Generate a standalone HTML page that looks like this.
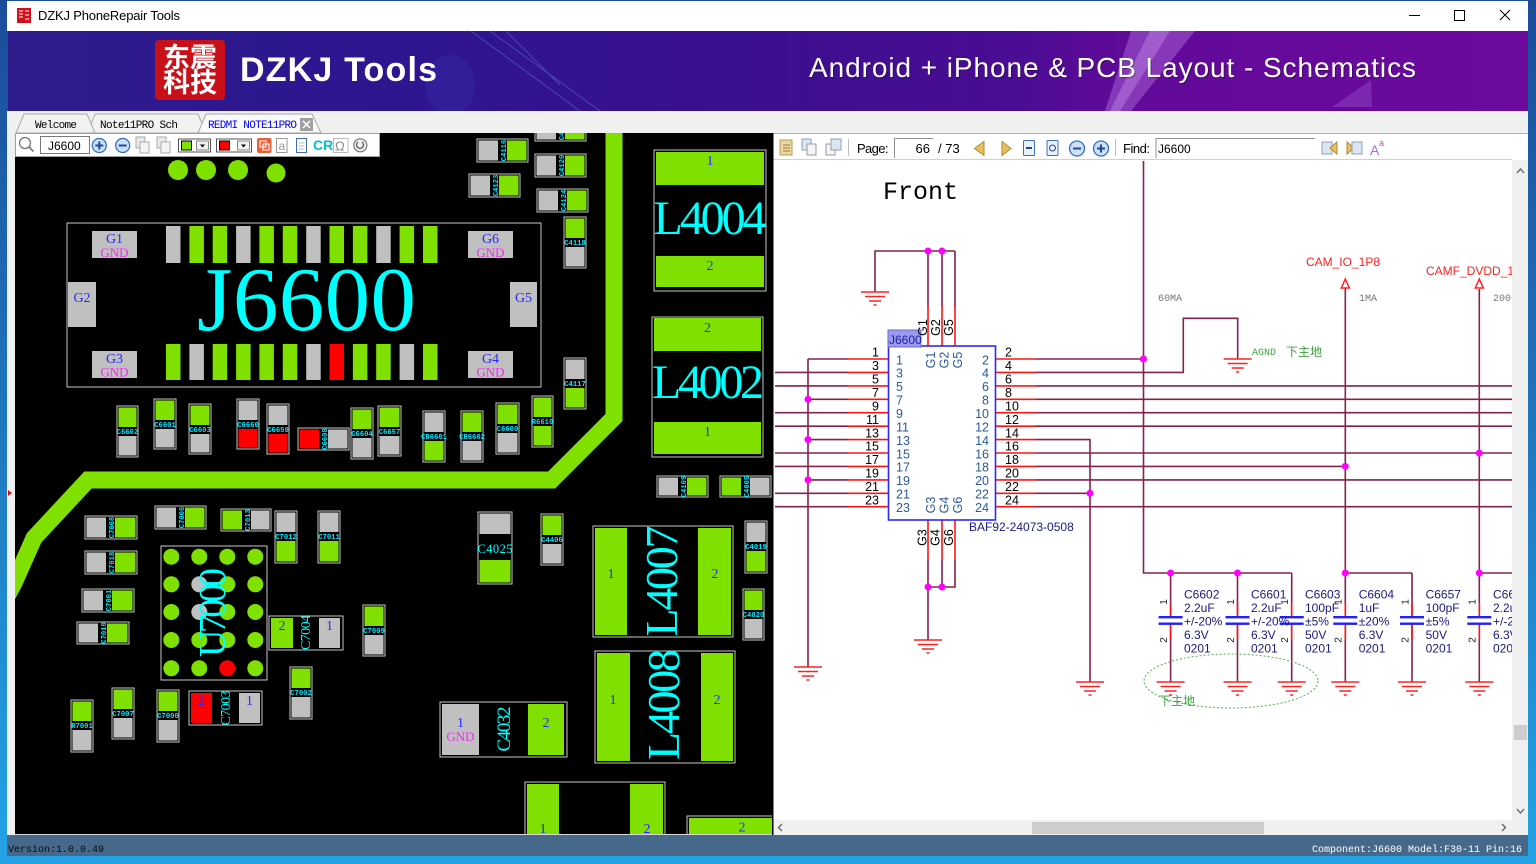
<!DOCTYPE html>
<html><head><meta charset="utf-8">
<style>
html,body{margin:0;padding:0;width:1536px;height:864px;overflow:hidden;background:#1b5fb0}
svg{display:block}
.g{fill:#80e000}.s{fill:#c0c0c0}.r{fill:#ff0000}
.o{fill:none;stroke:#c8c8c8;stroke-width:1}
.l{font:bold 7.2px "Liberation Mono",monospace;fill:#00e8ff;text-anchor:middle}
.cy{font-family:"Liberation Serif",serif;fill:#00ffff;text-anchor:middle}
.bn{font:14px "Liberation Serif",serif;fill:#2828ff;text-anchor:middle}
.mg{font:13px "Liberation Serif",serif;fill:#ff20ff;text-anchor:middle}
.w{fill:none;stroke:#86204f;stroke-width:1.6}
.p{fill:none;stroke:#ff1414;stroke-width:1.6}
.gd{fill:none;stroke:#ff2020;stroke-width:1.5}
.dt{fill:#ff00ff}
.pn{font:12.5px "Liberation Sans",sans-serif;fill:#000}
.pi{font:12.5px "Liberation Sans",sans-serif;fill:#2a5a9a}
.cl{font:12px "Liberation Sans",sans-serif;fill:#1a1a80}
.cp{font:10px "Liberation Sans",sans-serif;fill:#222;text-anchor:middle}
.tb{font:13px "Liberation Sans",sans-serif;fill:#000}
.tab{font:11px "Liberation Mono",monospace;fill:#000}
</style></head><body>
<svg width="1536" height="864" viewBox="0 0 1536 864" xmlns="http://www.w3.org/2000/svg">
<defs>
<linearGradient id="bg" x1="0" y1="0" x2="0" y2="1"><stop offset="0" stop-color="#1b4c9a"/><stop offset="1" stop-color="#23a3e6"/></linearGradient>
<linearGradient id="ban" x1="0" y1="0" x2="1" y2="0">
<stop offset="0" stop-color="#2e1c8c"/><stop offset="0.25" stop-color="#2d1590"/><stop offset="0.45" stop-color="#38108f"/><stop offset="0.66" stop-color="#4a0c94"/><stop offset="0.74" stop-color="#620a9a"/><stop offset="1" stop-color="#6c0a9e"/></linearGradient>
<clipPath id="sch"><rect x="774" y="161" width="738" height="659"/></clipPath>
<clipPath id="pcb"><rect x="15" y="133" width="758" height="701"/></clipPath>
<clipPath id="banc"><rect x="8" y="31" width="1520" height="80"/></clipPath>
</defs>

<!-- background / window -->
<rect x="0" y="0" width="1536" height="864" fill="url(#bg)"/>
<rect x="7" y="1" width="1521" height="30" fill="#fff"/>
<rect x="17" y="8" width="14" height="15" fill="#d0101a"/>
<path d="M19 11h4M19 14h4M19 17h4M25 11h4M25 15h4M25 19h4" stroke="#fff" stroke-width="1"/>
<text x="38" y="20" font-family="Liberation Sans, sans-serif" font-size="13" fill="#000" textLength="142">DZKJ PhoneRepair Tools</text>
<path d="M1409 15.5H1420" stroke="#000" stroke-width="1"/>
<rect x="1454.5" y="10.5" width="10" height="10" fill="none" stroke="#000" stroke-width="1"/>
<path d="M1500 10L1510 20M1510 10L1500 20" stroke="#000" stroke-width="1"/>

<!-- banner -->
<rect x="8" y="31" width="1520" height="80" fill="url(#ban)"/>
<g clip-path="url(#banc)">
<polygon points="1131,31 1195,31 1131,111 1105,111" fill="#c890f0" opacity="0.35"/>
<polygon points="1150,31 1170,31 1120,111 1110,111" fill="#e0b0ff" opacity="0.3"/>
<polygon points="1332,107 1371,80 1372,107" fill="#b070e0" opacity="0.3"/>
<path d="M471 31L580 111M506 31L560 85M490 31L600 111" stroke="#7ac8ff" stroke-width="1" opacity="0.3" fill="none"/>
<ellipse cx="450" cy="85" rx="25" ry="30" fill="#4a6ae0" opacity="0.12"/>
</g>
<rect x="155" y="40" width="70" height="60" rx="4" fill="#c81018"/>
<text x="190" y="67" text-anchor="middle" font-family="Noto Sans CJK SC, sans-serif" font-weight="bold" font-size="27" fill="#fff">东震</text>
<text x="190" y="92" text-anchor="middle" font-family="Noto Sans CJK SC, sans-serif" font-weight="bold" font-size="27" fill="#fff">科技</text>
<text x="240" y="81" font-family="Liberation Sans, sans-serif" font-weight="bold" font-size="34" fill="#fff" textLength="197">DZKJ Tools</text>
<text x="810" y="78" font-family="Liberation Sans, sans-serif" font-size="28" fill="#000" opacity="0.35" textLength="607">Android + iPhone &amp; PCB Layout - Schematics</text>
<text x="809" y="77" font-family="Liberation Sans, sans-serif" font-size="28" fill="#fff" textLength="607">Android + iPhone &amp; PCB Layout - Schematics</text>

<!-- tab row -->
<rect x="7" y="111" width="1521" height="22" fill="#f0f0f0"/>
<polygon points="88,133 95,114 198,114 206,133" fill="#f2f2f2" stroke="#a8a8a8"/>
<polygon points="16,133 24,114 87,114 95,133" fill="#f2f2f2" stroke="#a8a8a8"/>
<polygon points="198,133 206,114 312,114 321,133" fill="#fafafa" stroke="#a8a8a8"/>
<text x="35" y="128" class="tab" textLength="42">Welcome</text>
<text x="100" y="128" class="tab" textLength="78">Note11PRO Sch</text>
<text x="208" y="128" class="tab" style="fill:#0000ff" textLength="89">REDMI NOTE11PRO</text>
<rect x="300" y="118" width="13" height="13" fill="#a0a0a0"/>
<path d="M303 121l7 7M310 121l-7 7" stroke="#fff" stroke-width="1.5"/>

<!-- PCB panel -->
<rect x="7" y="133" width="766" height="703" fill="#f0f0f0"/>
<rect x="15" y="834" width="758" height="2" fill="#d8d8d8"/>
<polygon points="8,490 12,493 8,496" fill="#ff0000"/>
<g clip-path="url(#pcb)">
<rect x="15" y="133" width="758" height="701" fill="#000"/>
<polyline points="614,120 614,417.5 551.6,480 88,480 34,538 14,583 5,600" fill="none" stroke="#80e000" stroke-width="17" stroke-linejoin="miter"/>

<circle cx="178" cy="170" r="10" class="g"/><circle cx="206" cy="170" r="10" class="g"/><circle cx="238" cy="170" r="10" class="g"/><circle cx="276" cy="173" r="9.5" class="g"/>

<!-- J6600 footprint -->
<rect x="67" y="223" width="474" height="164" class="o"/>
<rect x="92" y="231" width="45" height="27" class="s"/><text x="114.5" y="243" class="bn">G1</text><text x="114.5" y="257" class="mg">GND</text>
<rect x="68" y="282" width="28" height="45" class="s"/><text x="82" y="302" class="bn">G2</text>
<rect x="92" y="351" width="45" height="27" class="s"/><text x="114.5" y="363" class="bn">G3</text><text x="114.5" y="376.5" class="mg">GND</text>
<rect x="468" y="231" width="45" height="27" class="s"/><text x="490.5" y="243" class="bn">G6</text><text x="490.5" y="257" class="mg">GND</text>
<rect x="510" y="282" width="27" height="45" class="s"/><text x="523.5" y="302" class="bn">G5</text>
<rect x="468" y="351" width="45" height="27" class="s"/><text x="490.5" y="363" class="bn">G4</text><text x="490.5" y="376.5" class="mg">GND</text>
<rect x="166" y="226" width="14.5" height="37" class="s"/>
<rect x="189.4" y="226" width="14.5" height="37" class="g"/>
<rect x="212.7" y="226" width="14.5" height="37" class="g"/>
<rect x="236.1" y="226" width="14.5" height="37" class="s"/>
<rect x="259.4" y="226" width="14.5" height="37" class="g"/>
<rect x="282.8" y="226" width="14.5" height="37" class="g"/>
<rect x="306.2" y="226" width="14.5" height="37" class="s"/>
<rect x="329.5" y="226" width="14.5" height="37" class="g"/>
<rect x="352.9" y="226" width="14.5" height="37" class="g"/>
<rect x="376.2" y="226" width="14.5" height="37" class="s"/>
<rect x="399.6" y="226" width="14.5" height="37" class="g"/>
<rect x="423" y="226" width="14.5" height="37" class="g"/>
<rect x="166" y="344" width="14.5" height="36" class="g"/>
<rect x="189.4" y="344" width="14.5" height="36" class="s"/>
<rect x="212.7" y="344" width="14.5" height="36" class="g"/>
<rect x="236.1" y="344" width="14.5" height="36" class="g"/>
<rect x="259.4" y="344" width="14.5" height="36" class="g"/>
<rect x="282.8" y="344" width="14.5" height="36" class="g"/>
<rect x="306.2" y="344" width="14.5" height="36" class="s"/>
<rect x="329.5" y="344" width="14.5" height="36" class="r"/>
<rect x="352.9" y="344" width="14.5" height="36" class="g"/>
<rect x="376.2" y="344" width="14.5" height="36" class="g"/>
<rect x="399.6" y="344" width="14.5" height="36" class="s"/>
<rect x="423" y="344" width="14.5" height="36" class="g"/>
<text x="197" y="330" font-family="Liberation Serif, serif" font-size="91" fill="#00ffff" textLength="219">J6600</text>

<!-- vertical small comps -->
<g transform="translate(117,406)"><rect width="21" height="51" class="o"/><rect x="1.5" y="1.5" width="18" height="19.5" class="g"/><rect x="1.5" y="30" width="18" height="19.5" class="s"/><text x="10.5" y="28" class="l">C6602</text></g>
<g transform="translate(154,399)"><rect width="22" height="50" class="o"/><rect x="1.5" y="1.5" width="19" height="19.5" class="g"/><rect x="1.5" y="30" width="19" height="18.5" class="s"/><text x="11" y="28" class="l">C6601</text></g>
<g transform="translate(189,404)"><rect width="22" height="50" class="o"/><rect x="1.5" y="1.5" width="19" height="19.5" class="g"/><rect x="1.5" y="30" width="19" height="18.5" class="s"/><text x="11" y="28" class="l">C6603</text></g>
<g transform="translate(237,399)"><rect width="22" height="50" class="o"/><rect x="1.5" y="1.5" width="19" height="19.5" class="s"/><rect x="1.5" y="30" width="19" height="18.5" class="r"/><text x="11" y="28" class="l">C6660</text></g>
<g transform="translate(267,404)"><rect width="22" height="50" class="o"/><rect x="1.5" y="1.5" width="19" height="19.5" class="s"/><rect x="1.5" y="30" width="19" height="18.5" class="r"/><text x="11" y="28" class="l">C6659</text></g>
<g transform="translate(351,408)"><rect width="22" height="51" class="o"/><rect x="1.5" y="1.5" width="19" height="19.5" class="g"/><rect x="1.5" y="30" width="19" height="19.5" class="s"/><text x="11" y="28" class="l">C6604</text></g>
<g transform="translate(378,406)"><rect width="23" height="50" class="o"/><rect x="1.5" y="1.5" width="20" height="19.5" class="g"/><rect x="1.5" y="30" width="20" height="18.5" class="s"/><text x="11.5" y="28" class="l">C6657</text></g>
<g transform="translate(423,411)"><rect width="22" height="51" class="o"/><rect x="1.5" y="1.5" width="19" height="19.5" class="s"/><rect x="1.5" y="30" width="19" height="19.5" class="g"/><text x="11" y="28" class="l">CR6601</text></g>
<g transform="translate(461,411)"><rect width="22" height="51" class="o"/><rect x="1.5" y="1.5" width="19" height="19.5" class="g"/><rect x="1.5" y="30" width="19" height="19.5" class="s"/><text x="11" y="28" class="l">CR6602</text></g>
<g transform="translate(496,403)"><rect width="23" height="51" class="o"/><rect x="1.5" y="1.5" width="20" height="19.5" class="g"/><rect x="1.5" y="30" width="20" height="19.5" class="s"/><text x="11.5" y="28" class="l">C6600</text></g>
<g transform="translate(532,396)"><rect width="21" height="51" class="o"/><rect x="1.5" y="1.5" width="18" height="19.5" class="g"/><rect x="1.5" y="30" width="18" height="19.5" class="g"/><text x="10.5" y="28" class="l">R6610</text></g>
<g transform="translate(564,358)"><rect width="22" height="51" class="o"/><rect x="1.5" y="1.5" width="19" height="19.5" class="s"/><rect x="1.5" y="30" width="19" height="19.5" class="g"/><text x="11" y="28" class="l">C4117</text></g>
<g transform="translate(564,217)"><rect width="22" height="51" class="o"/><rect x="1.5" y="1.5" width="19" height="19.5" class="g"/><rect x="1.5" y="30" width="19" height="19.5" class="s"/><text x="11" y="28" class="l">C4118</text></g>
<g transform="translate(275,511)"><rect width="22" height="52" class="o"/><rect x="1.5" y="1.5" width="19" height="19.5" class="s"/><rect x="1.5" y="30" width="19" height="20.5" class="g"/><text x="11" y="28" class="l">C7012</text></g>
<g transform="translate(318,511)"><rect width="22" height="52" class="o"/><rect x="1.5" y="1.5" width="19" height="19.5" class="s"/><rect x="1.5" y="30" width="19" height="20.5" class="g"/><text x="11" y="28" class="l">C7011</text></g>
<g transform="translate(363,605)"><rect width="22" height="51" class="o"/><rect x="1.5" y="1.5" width="19" height="19.5" class="g"/><rect x="1.5" y="30" width="19" height="19.5" class="s"/><text x="11" y="28" class="l">C7009</text></g>
<g transform="translate(290,667)"><rect width="22" height="52" class="o"/><rect x="1.5" y="1.5" width="19" height="19.5" class="g"/><rect x="1.5" y="30" width="19" height="20.5" class="s"/><text x="11" y="28" class="l">C7002</text></g>
<g transform="translate(157,690)"><rect width="22" height="52" class="o"/><rect x="1.5" y="1.5" width="19" height="19.5" class="g"/><rect x="1.5" y="30" width="19" height="20.5" class="s"/><text x="11" y="28" class="l">C7000</text></g>
<g transform="translate(112,688)"><rect width="22" height="51" class="o"/><rect x="1.5" y="1.5" width="19" height="19.5" class="g"/><rect x="1.5" y="30" width="19" height="19.5" class="s"/><text x="11" y="28" class="l">C7007</text></g>
<g transform="translate(71,700)"><rect width="22" height="52" class="o"/><rect x="1.5" y="1.5" width="19" height="19.5" class="g"/><rect x="1.5" y="30" width="19" height="20.5" class="s"/><text x="11" y="28" class="l">R7001</text></g>
<g transform="translate(541,514)"><rect width="22" height="51" class="o"/><rect x="1.5" y="1.5" width="19" height="19.5" class="g"/><rect x="1.5" y="30" width="19" height="19.5" class="s"/><text x="11" y="28" class="l">C4406</text></g>
<g transform="translate(745,521)"><rect width="22" height="52" class="o"/><rect x="1.5" y="1.5" width="19" height="19.5" class="s"/><rect x="1.5" y="30" width="19" height="20.5" class="g"/><text x="11" y="28" class="l">C4019</text></g>
<g transform="translate(743,589)"><rect width="21" height="51" class="o"/><rect x="1.5" y="1.5" width="18" height="19.5" class="g"/><rect x="1.5" y="30" width="18" height="19.5" class="s"/><text x="10.5" y="28" class="l">C4020</text></g>

<!-- horizontal small comps -->
<g transform="translate(298,428)"><rect width="51" height="22" class="o"/><rect x="1.5" y="1.5" width="19.5" height="19" class="r"/><rect x="30" y="1.5" width="19.5" height="19" class="s"/><text transform="translate(29,11) rotate(-90)" class="l">C6608</text></g>
<g transform="translate(537,189)"><rect width="51" height="23" class="o"/><rect x="1.5" y="1.5" width="19.5" height="20" class="s"/><rect x="30" y="1.5" width="19.5" height="20" class="g"/><text transform="translate(29,11.5) rotate(-90)" class="l">C4124</text></g>
<g transform="translate(469,174)"><rect width="51" height="23" class="o"/><rect x="1.5" y="1.5" width="19.5" height="20" class="s"/><rect x="30" y="1.5" width="19.5" height="20" class="g"/><text transform="translate(29,11.5) rotate(-90)" class="l">C4123</text></g>
<g transform="translate(535,154)"><rect width="51" height="23" class="o"/><rect x="1.5" y="1.5" width="19.5" height="20" class="s"/><rect x="30" y="1.5" width="19.5" height="20" class="g"/><text transform="translate(29,11.5) rotate(-90)" class="l">C4120</text></g>
<g transform="translate(477,139)"><rect width="51" height="23" class="o"/><rect x="1.5" y="1.5" width="19.5" height="20" class="s"/><rect x="30" y="1.5" width="19.5" height="20" class="g"/><text transform="translate(29,11.5) rotate(-90)" class="l">C4116</text></g>
<g transform="translate(535,118)"><rect width="51" height="23" class="o"/><rect x="1.5" y="1.5" width="19.5" height="20" class="s"/><rect x="30" y="1.5" width="19.5" height="20" class="g"/><text transform="translate(29,11.5) rotate(-90)" class="l">C4122</text></g>
<g transform="translate(657,476)"><rect width="51" height="21" class="o"/><rect x="1.5" y="1.5" width="19.5" height="18" class="s"/><rect x="30" y="1.5" width="19.5" height="18" class="g"/><text transform="translate(29,10.5) rotate(-90)" class="l">C4109</text></g>
<g transform="translate(720,476)"><rect width="51" height="21" class="o"/><rect x="1.5" y="1.5" width="19.5" height="18" class="g"/><rect x="30" y="1.5" width="19.5" height="18" class="s"/><text transform="translate(29,10.5) rotate(-90)" class="l">C4005</text></g>
<g transform="translate(85,516)"><rect width="52" height="23" class="o"/><rect x="1.5" y="1.5" width="19.5" height="20" class="s"/><rect x="30" y="1.5" width="20.5" height="20" class="g"/><text transform="translate(29,11.5) rotate(-90)" class="l">C7008</text></g>
<g transform="translate(155,506)"><rect width="51" height="23" class="o"/><rect x="1.5" y="1.5" width="19.5" height="20" class="s"/><rect x="30" y="1.5" width="19.5" height="20" class="g"/><text transform="translate(29,11.5) rotate(-90)" class="l">C7006</text></g>
<g transform="translate(221,509)"><rect width="50" height="22" class="o"/><rect x="1.5" y="1.5" width="19.5" height="19" class="g"/><rect x="30" y="1.5" width="18.5" height="19" class="s"/><text transform="translate(29,11) rotate(-90)" class="l">C7013</text></g>
<g transform="translate(85,551)"><rect width="52" height="23" class="o"/><rect x="1.5" y="1.5" width="19.5" height="20" class="s"/><rect x="30" y="1.5" width="20.5" height="20" class="g"/><text transform="translate(29,11.5) rotate(-90)" class="l">C7018</text></g>
<g transform="translate(82,589)"><rect width="52" height="23" class="o"/><rect x="1.5" y="1.5" width="19.5" height="20" class="s"/><rect x="30" y="1.5" width="20.5" height="20" class="g"/><text transform="translate(29,11.5) rotate(-90)" class="l">C7001</text></g>
<g transform="translate(77,622)"><rect width="52" height="22" class="o"/><rect x="1.5" y="1.5" width="19.5" height="19" class="s"/><rect x="30" y="1.5" width="20.5" height="19" class="g"/><text transform="translate(29,11) rotate(-90)" class="l">C7010</text></g>

<!-- C4025 -->
<g transform="translate(478,512)"><rect width="34" height="72" class="o"/><rect x="1.5" y="1.5" width="31" height="20.5" class="s"/><rect x="1.5" y="48" width="31" height="22.5" class="g"/><text x="17" y="41" class="cy" font-size="12.5" textLength="35">C4025</text></g>
<!-- C4032 -->
<g transform="translate(440,702)"><rect width="127" height="55" class="o"/><rect x="2" y="2" width="37" height="51" class="s"/><rect x="88" y="2" width="36" height="51" class="g"/><text x="20.5" y="25" class="bn">1</text><text x="20.5" y="39" class="mg">GND</text><text x="106" y="25" class="bn">2</text><text transform="translate(70,27) rotate(-90)" class="cy" font-size="19" textLength="45">C4032</text></g>
<!-- C7004 -->
<g transform="translate(269,616)"><rect width="74" height="34" class="o"/><rect x="2" y="2" width="22" height="30" class="g"/><rect x="50" y="2" width="21" height="30" class="s"/><text x="13" y="14" class="bn">2</text><text x="60.5" y="14" class="bn">1</text><text transform="translate(41,16.5) rotate(-90)" class="cy" font-size="14" textLength="35">C7004</text></g>
<!-- C7003 -->
<g transform="translate(189,691)"><rect width="73" height="34" class="o"/><rect x="2" y="2" width="21" height="30" class="r"/><rect x="50" y="2" width="21" height="30" class="s"/><text x="12.5" y="14" class="bn">2</text><text x="60.5" y="14" class="bn">1</text><text transform="translate(41,17) rotate(-90)" class="cy" font-size="14" textLength="35">C7003</text></g>

<!-- inductors -->
<g transform="translate(654,150)"><rect width="112" height="141" class="o"/><rect x="2" y="2" width="108" height="33" class="g"/><rect x="2" y="106" width="108" height="31" class="g"/><text x="56" y="15" class="bn">1</text><text x="56" y="120" class="bn">2</text><text x="56" y="84" class="cy" font-size="48" textLength="113">L4004</text></g>
<g transform="translate(652,317)"><rect width="111" height="140" class="o"/><rect x="2" y="1" width="107" height="33" class="g"/><rect x="2" y="105" width="107" height="32" class="g"/><text x="55.5" y="15" class="bn">2</text><text x="55.5" y="119" class="bn">1</text><text x="56" y="81" class="cy" font-size="48" textLength="112">L4002</text></g>
<g transform="translate(593,526)"><rect width="140" height="111" class="o"/><rect x="2" y="2" width="32" height="107" class="g"/><rect x="105" y="2" width="33" height="107" class="g"/><text x="18" y="52" class="bn">1</text><text x="122" y="52" class="bn">2</text><text transform="translate(84,55) rotate(-90)" class="cy" font-size="46" textLength="111">L4007</text></g>
<g transform="translate(595,651)"><rect width="140" height="112" class="o"/><rect x="2" y="2" width="33" height="108" class="g"/><rect x="106" y="2" width="32" height="108" class="g"/><text x="18" y="53" class="bn">1</text><text x="122" y="53" class="bn">2</text><text transform="translate(84,53.5) rotate(-90)" class="cy" font-size="46" textLength="111">L4008</text></g>
<g transform="translate(525,782)"><rect width="140" height="60" class="o"/><rect x="2" y="2" width="32" height="60" class="g"/><rect x="105" y="2" width="33" height="60" class="g"/><text x="18" y="51" class="bn">1</text><text x="122" y="51" class="bn">2</text></g>
<g transform="translate(687,816)"><rect width="90" height="30" class="o"/><rect x="2" y="2" width="90" height="30" class="g"/><text x="55" y="15.5" class="bn">2</text></g>

<!-- U7000 -->
<rect x="161" y="546" width="106" height="134" class="o"/>
<g class="g">
<circle cx="171.3" cy="556.7" r="8"/><circle cx="199.3" cy="556.7" r="8"/><circle cx="227.3" cy="556.7" r="8"/><circle cx="255.3" cy="556.7" r="8"/>
<circle cx="171.3" cy="584.3" r="8"/><circle cx="227.3" cy="584.3" r="8"/><circle cx="255.3" cy="584.3" r="8"/>
<circle cx="171.3" cy="612" r="8"/><circle cx="227.3" cy="612" r="8"/><circle cx="255.3" cy="612" r="8"/>
<circle cx="171.3" cy="640" r="8"/><circle cx="199.3" cy="640" r="8"/><circle cx="227.3" cy="640" r="8"/><circle cx="255.3" cy="640" r="8"/>
<circle cx="171.3" cy="668.3" r="8"/><circle cx="199.3" cy="668.3" r="8"/><circle cx="255.3" cy="668.3" r="8"/>
</g>
<circle cx="199.3" cy="584.3" r="8" class="s"/><circle cx="199.3" cy="612" r="8" class="s"/>
<circle cx="227.3" cy="668.3" r="8" class="r"/>
<text transform="translate(225,612.5) rotate(-90)" class="cy" font-size="38" textLength="89">U7000</text>
</g>

<!-- PCB toolbar -->
<rect x="15.5" y="133.5" width="364" height="23" fill="#fff" stroke="#a0a0a0"/>
<circle cx="25" cy="143" r="5.5" fill="none" stroke="#777" stroke-width="1.3"/>
<path d="M29 147L33.5 151.5" stroke="#777" stroke-width="1.6"/>
<rect x="40.5" y="136.5" width="49" height="17" fill="#fff" stroke="#7a7a7a"/>
<text x="48" y="150" font-family="Liberation Sans, sans-serif" font-size="12" fill="#000">J6600</text>
<circle cx="99.3" cy="145.5" r="7" fill="#cfe0f5" stroke="#3070c0" stroke-width="1.3"/>
<path d="M95.3 145.5h8M99.3 141.5v8" stroke="#1a4a9a" stroke-width="2"/>
<circle cx="122.7" cy="145.5" r="7" fill="#cfe0f5" stroke="#3070c0" stroke-width="1.3"/>
<path d="M118.7 145.5h8" stroke="#1a4a9a" stroke-width="2"/>
<rect x="136" y="137" width="9" height="11" fill="#eaeaea" stroke="#aaa"/><rect x="140" y="142" width="9" height="11" fill="#f4f4f4" stroke="#aaa"/>
<rect x="157" y="137" width="9" height="11" fill="#eaeaea" stroke="#aaa"/><rect x="161" y="142" width="9" height="11" fill="#f4f4f4" stroke="#aaa"/>
<rect x="178.5" y="139" width="32" height="13" fill="#fff" stroke="#555"/>
<rect x="181.5" y="141" width="10" height="9" fill="#80e000" stroke="#000"/>
<rect x="196.5" y="141" width="12" height="9" fill="#f0f0f0" stroke="#888"/>
<path d="M200 144.5h5l-2.5 3z" fill="#000"/>
<rect x="216.5" y="139" width="35" height="13" fill="#fff" stroke="#555"/>
<rect x="219.5" y="141" width="10" height="9" fill="#ff0000" stroke="#000"/>
<rect x="237.5" y="141" width="12" height="9" fill="#f0f0f0" stroke="#888"/>
<path d="M241 144.5h5l-2.5 3z" fill="#000"/>
<rect x="257" y="138" width="14.5" height="15" rx="2" fill="#e8603a"/>
<rect x="260" y="141" width="6" height="6" fill="none" stroke="#fff"/><rect x="263" y="144" width="6" height="6" fill="none" stroke="#fff"/>
<rect x="276.5" y="138.5" width="10.5" height="14" fill="#fff" stroke="#999"/>
<text x="278.5" y="150" font-family="Liberation Sans, sans-serif" font-size="12" fill="#999">a</text>
<rect x="296.5" y="138.5" width="10" height="14" fill="#fff" stroke="#3a6ab0"/>
<path d="M298.5 143h6M298.5 146h6M298.5 149h6" stroke="#bbb"/>
<text x="313" y="150" font-family="Liberation Sans, sans-serif" font-weight="bold" font-size="14" fill="#00c0d0">CR</text>
<rect x="333.5" y="138.5" width="14.5" height="14" fill="#fff" stroke="#bbb"/>
<text x="335" y="150.5" font-family="Liberation Sans, sans-serif" font-size="13" fill="#888">Ω</text>
<circle cx="360.3" cy="145.3" r="6.5" fill="#eee" stroke="#777" stroke-width="1.2"/>
<path d="M358 142a3.5 3.5 0 1 0 4 0" fill="none" stroke="#555" stroke-width="1.2"/>

<!-- right toolbar -->
<rect x="773" y="133" width="755" height="27" fill="#fff"/>
<path d="M773 133.5H1528" stroke="#b0b0b0"/>
<path d="M773 159.5H1512" stroke="#d0d0d0"/>
<rect x="780" y="140" width="12" height="15" fill="#e8d7a0" stroke="#b89a50"/>
<path d="M783 145h7M783 148h7M783 151h7" stroke="#a08040"/>
<rect x="802" y="139" width="9" height="11" fill="#dde6f0" stroke="#8aa0c0"/><rect x="807" y="144" width="9" height="11" fill="#f4f4f4" stroke="#999"/>
<rect x="826" y="144" width="9" height="11" fill="#f4f4f4" stroke="#999"/><rect x="831" y="139" width="10" height="11" fill="#dde6f0" stroke="#8aa0c0"/>
<path d="M848.5 139V156" stroke="#c0c0c0"/>
<text x="857" y="153" class="tb" textLength="31.5">Page:</text>
<path d="M894.5 158V138.5H933" stroke="#909090" fill="none"/>
<text x="930" y="153" class="tb" text-anchor="end">66</text>
<text x="938" y="153" class="tb">/ 73</text>
<path d="M984 141.5V155.5L974.5 148.5Z" fill="#e8c060" stroke="#b08a30"/>
<path d="M1002 141.5V155.5L1011 148.5Z" fill="#e8c060" stroke="#b08a30"/>
<rect x="1023.5" y="140.5" width="11" height="15" rx="1" fill="#eaf2fb" stroke="#3a72c0"/>
<path d="M1026 148h6" stroke="#1a4a9a" stroke-width="2"/>
<rect x="1047" y="140.5" width="11" height="15" rx="1" fill="#eaf2fb" stroke="#3a72c0"/>
<circle cx="1052.5" cy="148" r="3" fill="none" stroke="#1a4a9a"/>
<circle cx="1077" cy="148.5" r="7.5" fill="#cfe0f5" stroke="#3070c0" stroke-width="1.3"/>
<path d="M1073 148.5h8" stroke="#1a4a9a" stroke-width="2"/>
<circle cx="1101" cy="148.5" r="7.5" fill="#cfe0f5" stroke="#3070c0" stroke-width="1.3"/>
<path d="M1097 148.5h8M1101 144.5v8" stroke="#1a4a9a" stroke-width="2"/>
<path d="M1115.5 139V156" stroke="#c0c0c0"/>
<text x="1123" y="153" class="tb" textLength="27">Find:</text>
<path d="M1156 158V138.5H1315" stroke="#909090" fill="none"/>
<text x="1158" y="153" font-family="Liberation Sans, sans-serif" font-size="12" fill="#000">J6600</text>
<rect x="1322" y="142" width="10" height="12" fill="#dde6f0" stroke="#8aa0c0"/><path d="M1337 142V154L1330 148Z" fill="#e8c060" stroke="#b08a30"/>
<path d="M1347 142V154L1354 148Z" fill="#e8c060" stroke="#b08a30"/><rect x="1352" y="142" width="10" height="12" fill="#dde6f0" stroke="#8aa0c0"/>
<text x="1370" y="155" font-family="Liberation Sans, sans-serif" font-size="14" fill="#a070e0">A</text>
<text x="1379" y="146" font-family="Liberation Sans, sans-serif" font-size="9" fill="#e040c0">a</text>

<!-- schematic -->
<rect x="773" y="160" width="740" height="660" fill="#fff"/>
<g clip-path="url(#sch)">
<text x="883" y="199" font-family="Liberation Mono, monospace" font-size="25" fill="#000">Front</text>

<!-- wires -->
<path class="w" d="M808 359H848M775 372.4H848M775 385.9H848M808 399.3H848M775 412.7H848M775 426.2H848M808 439.6H848M775 453H848M775 466.4H848M808 479.9H848M775 493.3H848M775 506.7H848M808 359V667"/>
<path class="p" d="M848 359H888M848 372.4H888M848 385.9H888M848 399.3H888M848 412.7H888M848 426.2H888M848 439.6H888M848 453H888M848 466.4H888M848 479.9H888M848 493.3H888M848 506.7H888"/>
<path class="p" d="M996 359H1036M996 372.4H1036M996 385.9H1036M996 399.3H1036M996 412.7H1036M996 426.2H1036M996 439.6H1036M996 453H1036M996 466.4H1036M996 479.9H1036M996 493.3H1036M996 506.7H1036"/>
<path class="w" d="M1036 359H1143.5M1036 372.4H1183.3V318.3H1237.7V359M1036 385.9H1512M1036 399.3H1512M1036 412.7H1512M1036 426.2H1512M1036 439.6H1090V682M1036 453H1512M1036 466.4H1345.3M1036 479.9H1512M1036 493.3H1090M1036 506.7H1512M1143.5 160V573H1291.7M1345.3 288V682M1345.3 573H1412M1479.3 289V682M1479.3 573H1512M1170.6 573V682M1237.5 573V682M1291.7 573V682M1412 573V682"/>
<path class="w" d="M875 292V251H955M928 251V306M942 251V306M955 251V306"/>
<path class="p" d="M928 306V346M942 306V346M955 306V346"/>
<path class="p" d="M928 520V560M942 520V560M955 520V560"/>
<path class="w" d="M928 560V640M942 560V587M955 560V587H928"/>
<path class="p" d="M1170.6 603V616M1170.6 625V640M1237.5 603V616M1237.5 625V640M1291.7 603V616M1291.7 625V640M1345.3 603V616M1345.3 625V640M1412 603V616M1412 625V640M1479.3 603V616M1479.3 625V640"/>

<!-- connector box -->
<rect x="888.5" y="346" width="107" height="174" fill="#fff" stroke="#2a2aff" stroke-width="1.6"/>
<rect x="888" y="330" width="33" height="17" fill="#9a9af0" stroke="#6a6ad0" stroke-width="1"/>
<text x="889" y="344" font-family="Liberation Sans, sans-serif" font-size="12" fill="#2020a0">J6600</text>
<text x="969" y="531" font-family="Liberation Sans, sans-serif" font-size="12" fill="#1a1a8a">BAF92-24073-0508</text>

<g class="pn" text-anchor="end">
<text x="879" y="356.7">1</text><text x="879" y="370.1">3</text><text x="879" y="383.6">5</text><text x="879" y="397">7</text><text x="879" y="410.4">9</text><text x="879" y="423.9">11</text><text x="879" y="437.3">13</text><text x="879" y="450.7">15</text><text x="879" y="464.1">17</text><text x="879" y="477.6">19</text><text x="879" y="491">21</text><text x="879" y="504.4">23</text>
</g>
<g class="pn">
<text x="1005" y="356.7">2</text><text x="1005" y="370.1">4</text><text x="1005" y="383.6">6</text><text x="1005" y="397">8</text><text x="1005" y="410.4">10</text><text x="1005" y="423.9">12</text><text x="1005" y="437.3">14</text><text x="1005" y="450.7">16</text><text x="1005" y="464.1">18</text><text x="1005" y="477.6">20</text><text x="1005" y="491">22</text><text x="1005" y="504.4">24</text>
</g>
<g class="pi">
<text x="896" y="364.3">1</text><text x="896" y="377.7">3</text><text x="896" y="391.2">5</text><text x="896" y="404.6">7</text><text x="896" y="418">9</text><text x="896" y="431.5">11</text><text x="896" y="444.9">13</text><text x="896" y="458.3">15</text><text x="896" y="471.7">17</text><text x="896" y="485.2">19</text><text x="896" y="498.6">21</text><text x="896" y="512">23</text>
</g>
<g class="pi" text-anchor="end">
<text x="989" y="364.3">2</text><text x="989" y="377.7">4</text><text x="989" y="391.2">6</text><text x="989" y="404.6">8</text><text x="989" y="418">10</text><text x="989" y="431.5">12</text><text x="989" y="444.9">14</text><text x="989" y="458.3">16</text><text x="989" y="471.7">18</text><text x="989" y="485.2">20</text><text x="989" y="498.6">22</text><text x="989" y="512">24</text>
</g>
<g class="pi" text-anchor="middle">
<text transform="translate(935,360) rotate(-90)">G1</text><text transform="translate(948.5,360) rotate(-90)">G2</text><text transform="translate(962,360) rotate(-90)">G5</text>
<text transform="translate(935,505) rotate(-90)">G3</text><text transform="translate(948.5,505) rotate(-90)">G4</text><text transform="translate(962,505) rotate(-90)">G6</text>
</g>
<g class="pn" text-anchor="middle">
<text transform="translate(927,327.5) rotate(-90)">G1</text><text transform="translate(940,327.5) rotate(-90)">G2</text><text transform="translate(953,327.5) rotate(-90)">G5</text>
<text transform="translate(926.5,537.5) rotate(-90)">G3</text><text transform="translate(939.5,537.5) rotate(-90)">G4</text><text transform="translate(953,537.5) rotate(-90)">G6</text>
</g>

<!-- grounds -->
<path class="gd" d="M861 292H889M865 296.5H885M869 301H881M873.5 305H876.5
M1223.7 359H1251.7M1227.7 363.5H1247.7M1231.7 368H1243.7M1236.2 372H1239.2
M794 667H822M798 671.5H818M802 676H814M806.5 680H809.5
M914 640H942M918 644.5H938M922 649H934M926.5 653H929.5
M1076 682H1104M1080 686.5H1100M1084 691H1096M1088.5 695H1091.5
M1156.6 682H1184.6M1160.6 686.5H1180.6M1164.6 691H1176.6M1169.1 695H1172.1
M1223.5 682H1251.5M1227.5 686.5H1247.5M1231.5 691H1243.5M1236 695H1239
M1277.7 682H1305.7M1281.7 686.5H1301.7M1285.7 691H1297.7M1290.2 695H1293.2
M1331.3 682H1359.3M1335.3 686.5H1355.3M1339.3 691H1351.3M1343.8 695H1346.8
M1398 682H1426M1402 686.5H1422M1406 691H1418M1410.5 695H1413.5
M1465.3 682H1493.3M1469.3 686.5H1489.3M1473.3 691H1485.3M1477.8 695H1480.8"/>

<!-- power flags -->
<path d="M1345.3 279L1349.3 288H1341.3Z" fill="#fff" stroke="#ff2020" stroke-width="1.5"/>
<path d="M1479.3 279L1483.3 288H1475.3Z" fill="#fff" stroke="#ff2020" stroke-width="1.5"/>
<text x="1343" y="266" text-anchor="middle" font-family="Liberation Sans, sans-serif" font-size="12" fill="#ff2020">CAM_IO_1P8</text>
<text x="1426" y="275" font-family="Liberation Sans, sans-serif" font-size="12" fill="#ff2020">CAMF_DVDD_1</text>
<g font-family="Liberation Mono, monospace" font-size="10" fill="#777">
<text x="1158" y="301">60MA</text><text x="1359" y="301">1MA</text><text x="1493" y="301">200</text>
</g>
<text x="1252" y="355" font-family="Liberation Mono, monospace" font-size="10" fill="#40a040">AGND</text>
<text x="1286" y="356" font-family="Liberation Sans, Noto Sans CJK SC, sans-serif" font-size="12" fill="#40a040">下主地</text>

<!-- caps -->
<g fill="#2020ff">
<rect x="1158.6" y="616" width="24" height="2.4"/><rect x="1158.6" y="622.5" width="24" height="2.4"/>
<rect x="1225.5" y="616" width="24" height="2.4"/><rect x="1225.5" y="622.5" width="24" height="2.4"/>
<rect x="1279.7" y="616" width="24" height="2.4"/><rect x="1279.7" y="622.5" width="24" height="2.4"/>
<rect x="1333.3" y="616" width="24" height="2.4"/><rect x="1333.3" y="622.5" width="24" height="2.4"/>
<rect x="1400" y="616" width="24" height="2.4"/><rect x="1400" y="622.5" width="24" height="2.4"/>
<rect x="1467.3" y="616" width="24" height="2.4"/><rect x="1467.3" y="622.5" width="24" height="2.4"/>
</g>
<g fill="#fff">
<rect x="1169" y="618.4" width="3.2" height="4.1"/><rect x="1235.9" y="618.4" width="3.2" height="4.1"/><rect x="1290.1" y="618.4" width="3.2" height="4.1"/><rect x="1343.7" y="618.4" width="3.2" height="4.1"/><rect x="1410.4" y="618.4" width="3.2" height="4.1"/><rect x="1477.7" y="618.4" width="3.2" height="4.1"/>
</g>
<g class="cp">
<text transform="translate(1167,602) rotate(-90)">1</text><text transform="translate(1167,640) rotate(-90)">2</text>
<text transform="translate(1234,602) rotate(-90)">1</text><text transform="translate(1234,640) rotate(-90)">2</text>
<text transform="translate(1288,602) rotate(-90)">1</text><text transform="translate(1288,640) rotate(-90)">2</text>
<text transform="translate(1341.5,602) rotate(-90)">1</text><text transform="translate(1341.5,640) rotate(-90)">2</text>
<text transform="translate(1408.5,602) rotate(-90)">1</text><text transform="translate(1408.5,640) rotate(-90)">2</text>
<text transform="translate(1475.5,602) rotate(-90)">1</text><text transform="translate(1475.5,640) rotate(-90)">2</text>
</g>
<g class="cl">
<text x="1184" y="598.5">C6602</text><text x="1184" y="612">2.2uF</text><text x="1184" y="625.5">+/-20%</text><text x="1184" y="639">6.3V</text><text x="1184" y="652.5">0201</text>
<text x="1251" y="598.5">C6601</text><text x="1251" y="612">2.2uF</text><text x="1251" y="625.5">+/-20%</text><text x="1251" y="639">6.3V</text><text x="1251" y="652.5">0201</text>
<text x="1305" y="598.5">C6603</text><text x="1305" y="612">100pF</text><text x="1305" y="625.5">±5%</text><text x="1305" y="639">50V</text><text x="1305" y="652.5">0201</text>
<text x="1358.7" y="598.5">C6604</text><text x="1358.7" y="612">1uF</text><text x="1358.7" y="625.5">±20%</text><text x="1358.7" y="639">6.3V</text><text x="1358.7" y="652.5">0201</text>
<text x="1425.6" y="598.5">C6657</text><text x="1425.6" y="612">100pF</text><text x="1425.6" y="625.5">±5%</text><text x="1425.6" y="639">50V</text><text x="1425.6" y="652.5">0201</text>
<text x="1493" y="598.5">C6658</text><text x="1493" y="612">2.2uF</text><text x="1493" y="625.5">+/-20%</text><text x="1493" y="639">6.3V</text><text x="1493" y="652.5">0201</text>
</g>
<ellipse cx="1231" cy="681" rx="87" ry="27" fill="none" stroke="#50b050" stroke-width="1" stroke-dasharray="2 2"/>
<text x="1159" y="705" font-family="Liberation Sans, Noto Sans CJK SC, sans-serif" font-size="12" fill="#40a040">下主地</text>

<!-- junction dots -->
<g class="dt">
<circle cx="928" cy="251" r="3.5"/><circle cx="942" cy="251" r="3.5"/>
<circle cx="808" cy="399.3" r="3.5"/><circle cx="808" cy="439.6" r="3.5"/><circle cx="808" cy="479.9" r="3.5"/>
<circle cx="1143.5" cy="359" r="3.5"/><circle cx="1090" cy="493.3" r="3.5"/>
<circle cx="1479.3" cy="453" r="3.5"/><circle cx="1345.3" cy="466.4" r="3.5"/>
<circle cx="928" cy="587" r="3.5"/><circle cx="942" cy="587" r="3.5"/>
<circle cx="1170.6" cy="573" r="3.5"/><circle cx="1237.5" cy="573" r="3.5"/><circle cx="1345.3" cy="573" r="3.5"/><circle cx="1479.3" cy="573" r="3.5"/>
</g>
</g>

<!-- scrollbars -->
<rect x="1512" y="160" width="16" height="675" fill="#f0f0f0"/>
<rect x="1514" y="725" width="13" height="15" fill="#cdcdcd"/>
<path d="M1517 173l3.5-4 3.5 4" fill="none" stroke="#606060" stroke-width="1.3"/>
<path d="M1517 809l3.5 4 3.5-4" fill="none" stroke="#606060" stroke-width="1.3"/>
<rect x="773" y="820" width="739" height="15" fill="#f0f0f0"/>
<rect x="1032" y="822" width="232" height="12" fill="#cdcdcd"/>
<path d="M782 824l-3.5 3.5 3.5 3.5" fill="none" stroke="#606060" stroke-width="1.3"/>
<path d="M1502 824l3.5 3.5-3.5 3.5" fill="none" stroke="#606060" stroke-width="1.3"/>
<rect x="772" y="133" width="1.5" height="702" fill="#000"/>

<!-- status bar -->
<rect x="7" y="835" width="1521" height="21" fill="#46698b"/>
<text x="8" y="852" font-family="Liberation Mono, monospace" font-size="10" fill="#0a0a0a">Version:1.0.0.49</text>
<text x="1522" y="852" text-anchor="end" font-family="Liberation Mono, monospace" font-size="10" fill="#fff">Component:J6600 Model:F30-11 Pin:16</text>
</svg>
</body></html>
